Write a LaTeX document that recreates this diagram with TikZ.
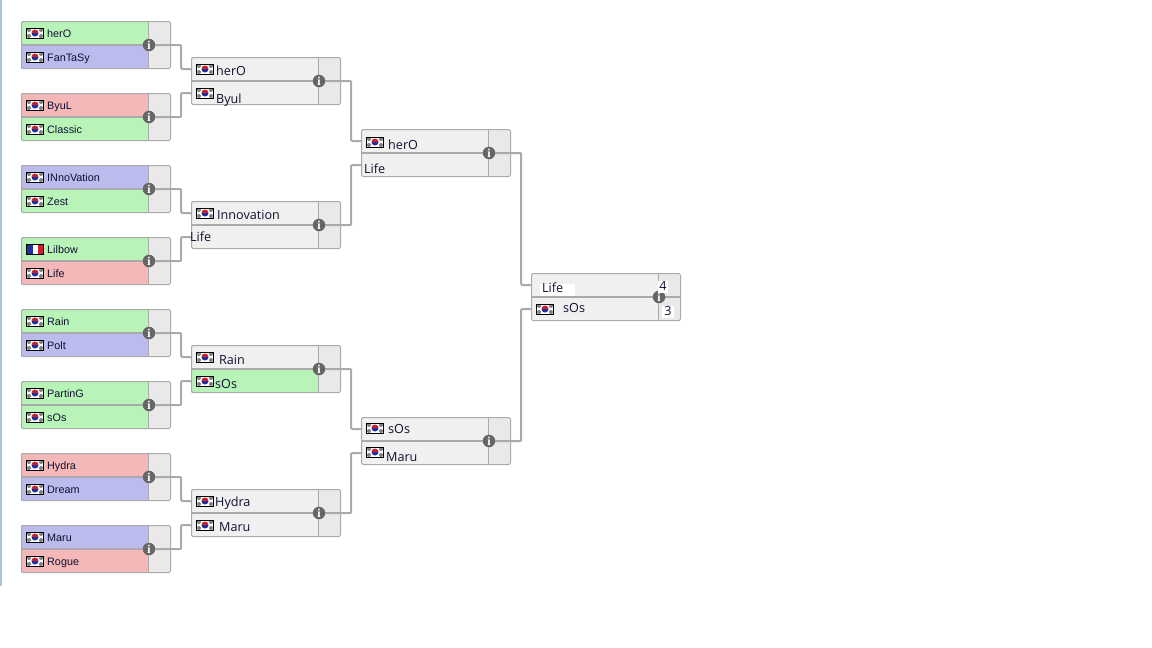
\documentclass[tikz,border=0pt]{standalone}
\usepackage{fontspec}
\setmainfont{Liberation Sans}
\newfontfamily\widefont{Open Sans}
\newfontfamily\dotfont{Liberation Serif}
\usetikzlibrary{positioning}
\definecolor{wingreen}{HTML}{B8F4B8}
\definecolor{drawblue}{HTML}{BBBBEE}
\definecolor{losered}{HTML}{F4B8B8}
\definecolor{plainrow}{HTML}{F0F0F0}
\definecolor{scorecol}{HTML}{E9E9E9}
\definecolor{edgegray}{HTML}{AAAAAA}
\definecolor{dotgray}{HTML}{666666}
\definecolor{pageline}{HTML}{A9C6DE}
\definecolor{inkdark}{HTML}{101030}
\definecolor{flagred}{HTML}{CC2030}
\definecolor{flagblue}{HTML}{2030A0}
\tikzset{
  rowbox/.style={minimum width=127pt, minimum height=24pt, inner sep=0pt, outer sep=0pt, anchor=north west},
  scorebox/.style={fill=scorecol, minimum width=22pt, minimum height=48pt, inner sep=0pt, outer sep=0pt},
  framebox/.style={draw=edgegray, line width=1pt, rounded corners=1.5pt, minimum width=149pt,
    minimum height=47pt, inner sep=0pt, outer sep=0pt, anchor=west, xshift=.5pt},
  midrule/.style={draw=edgegray, line width=2pt},
  colrule/.style={draw=edgegray, line width=1pt},
  wire/.style={draw=edgegray, line width=2pt, rounded corners=1pt},
  infodot/.style={circle, fill=dotgray, text=white, minimum size=12.5pt, inner sep=0pt, xshift=1pt,
    font=\dotfont\fontsize{12}{12}\selectfont\bfseries},
  krflag/.style={draw=black, line width=1pt, fill=white, minimum width=17pt, minimum height=10pt, inner sep=0pt,
    path picture={
      \foreach \dx/\dy in {-6/-3,-6/3,6/-3,6/3}
        \fill[gray] (path picture bounding box.center) ++(\dx pt,\dy pt) circle[radius=2pt];
      \fill[flagred] (path picture bounding box.center) ++(-3.5pt,0pt) arc[start angle=180, end angle=0, radius=3.5pt] -- cycle;
      \fill[flagblue] (path picture bounding box.center) ++(-3.5pt,0pt) arc[start angle=180, end angle=360, radius=3.5pt] -- cycle;
    }},
  frflag/.style={draw=black, line width=1pt, fill=white, minimum width=17pt, minimum height=10pt, inner sep=0pt,
    path picture={
      \fill[flagblue] (path picture bounding box.south west) rectangle ++(6pt,12pt);
      \fill[flagred] (path picture bounding box.south east) rectangle ++(-6pt,12pt);
    }},
  smalltxt/.style={anchor=west, inner sep=0pt, text=inkdark, text height=8pt, text depth=2pt,
    font=\fontsize{10.8}{13}\selectfont},
  bigtxt/.style={anchor=west, inner sep=0pt, text=inkdark, text height=9pt, text depth=3pt,
    font=\widefont\fontsize{12.6}{15}\selectfont},
}
% one match: name, x, y, top row fill, bottom row fill
\newcommand{\matchbox}[5]{%
  \node[rowbox, fill=#4] (#1a) at (#2,#3) {};
  \node[rowbox, fill=#5, below=0pt of #1a] (#1b) {};
  \node[scorebox, anchor=north west] (#1s) at (#1a.north east) {};
  \node[framebox] (#1) at (#1a.south west) {};
  \draw[colrule] ([xshift=.5pt]#1a.north east) -- ([xshift=.5pt]#1b.south east);
  \draw[midrule] (#1.west) -- (#1.east);
  \node[infodot] (#1i) at (#1a.south east) {i};
}
% connector from an info dot to a row of the next round
\newcommand{\feed}[2]{\draw[wire] (#1i.east) -- ++(25.75,0) |- (#2.west);}

\begin{document}
\begin{tikzpicture}[x=1pt,y=-1pt]
  \useasboundingbox (0,0) rectangle (1152,648);
  \draw[draw=pageline, line width=2pt] (1,0) -- (1,586);

  % first round
  \matchbox{ma}{21}{21}{wingreen}{drawblue}
  \matchbox{mb}{21}{93}{losered}{wingreen}
  \matchbox{mc}{21}{165}{drawblue}{wingreen}
  \matchbox{md}{21}{237}{wingreen}{losered}
  \matchbox{me}{21}{309}{wingreen}{drawblue}
  \matchbox{mf}{21}{381}{wingreen}{wingreen}
  \matchbox{mg}{21}{453}{losered}{drawblue}
  \matchbox{mh}{21}{525}{drawblue}{losered}

  % second round
  \matchbox{qa}{191}{57}{plainrow}{plainrow}
  \matchbox{qb}{191}{201}{plainrow}{plainrow}
  \matchbox{qc}{191}{345}{plainrow}{wingreen}
  \matchbox{qd}{191}{489}{plainrow}{plainrow}

  % semis and final
  \matchbox{sa}{361}{129}{plainrow}{plainrow}
  \matchbox{sb}{361}{417}{plainrow}{plainrow}
  \matchbox{fa}{531}{273}{plainrow}{plainrow}

  \feed{ma}{qaa} \feed{mb}{qab} \feed{mc}{qba} \feed{md}{qbb}
  \feed{me}{qca} \feed{mf}{qcb} \feed{mg}{qda} \feed{mh}{qdb}
  \feed{qa}{saa} \feed{qb}{sab} \feed{qc}{sba} \feed{qd}{sbb}
  \feed{sa}{faa} \feed{sb}{fab}

  \foreach \nm/\y/\who in {aa/34/herO,ab/58/FanTaSy,ba/106/ByuL,bb/130/Classic,
      ca/178/INnoVation,cb/202/Zest,da/250/Lilbow,db/274/Life,
      ea/322/Rain,eb/346/Polt,fa/394/PartinG,fb/418/sOs,
      ga/466/Hydra,gb/490/Dream,ha/538/Maru,hb/562/Rogue} {
    \node[smalltxt] (t\nm) at (47,\y) {\who};
  }
  \foreach \nm/\y in {aa/33,ab/57,ba/105,bb/129,ca/177,cb/201,db/273,
      ea/321,eb/345,fa/393,fb/417,ga/465,gb/489,ha/537,hb/561} {
    \node[krflag] (fl\nm) at (35,\y) {};
  }
  \node[frflag] (flda) at (35,249) {};

  \foreach \nm/\x/\y in {qa/205/69,qb/205/93,qc/205/213,qe/205/357,qf/205/381,qg/205/501,qh/205/525,
      sa/375/142,sc/375/428,sd/375/452,fb/545/309} {
    \node[krflag] (fl\nm) at (\x,\y) {};
  }
  \foreach \nm/\x/\y/\who in {qa/216/72.5/herO,qb/216/100.5/Byul,qc/217/216.5/Innovation,qd/190/238.5/Life,
      qe/219/361.5/Rain,qf/215/385.5/sOs,qg/215/503.5/Hydra,qh/219/528.5/Maru,
      sa/388/146.5/herO,sb/364/170.5/Life,sc/388/430.5/sOs,sd/386/458.5/Maru,fb/563/309.5/sOs} {
    \node[bigtxt] (t\nm) at (\x,\y) {\who};
  }
  \node[bigtxt, fill=white, inner xsep=2pt, minimum width=35pt, text width=31pt] (tfa) at (540,289.5) {Life};
  \node[bigtxt, fill=white, anchor=center, inner xsep=1pt] (tfs) at (663,287) {4};
  \node[bigtxt, fill=white, anchor=center, inner xsep=2pt] (tft) at (668,312) {3};
\end{tikzpicture}
\end{document}
